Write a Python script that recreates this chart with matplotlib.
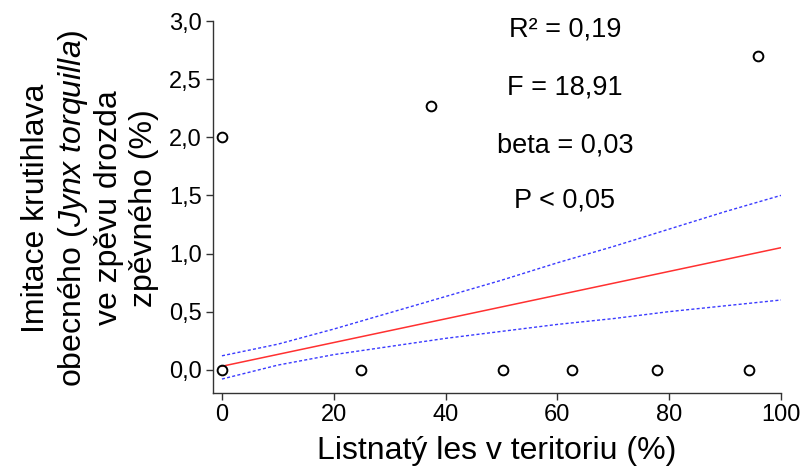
import matplotlib
matplotlib.use("Agg")
import matplotlib.pyplot as plt

plt.rcParams['font.family'] = ['Liberation Sans', 'DejaVu Sans']
plt.rcParams['mathtext.fontset'] = 'custom'
plt.rcParams['mathtext.rm'] = 'Liberation Sans'
plt.rcParams['mathtext.it'] = 'Liberation Sans:italic'

# data points
pts_x = [0, 0, 24.9, 37.4, 50.2, 62.6, 77.8, 94.3, 95.9]
pts_y = [2.0, 0.0, 0.0, 2.27, 0.0, 0.0, 0.0, 0.0, 2.70]

# regression line
fit_x = [0, 100]
fit_y = [0.03, 1.05]

# confidence bands
ci_x = [0, 10, 20, 30, 40, 50, 60, 70, 80, 90, 100]
ci_upper = [0.12, 0.22, 0.35, 0.49, 0.63, 0.77, 0.92, 1.06, 1.21, 1.36, 1.50]
ci_lower = [-0.08, 0.04, 0.13, 0.20, 0.27, 0.33, 0.39, 0.44, 0.50, 0.55, 0.60]

xticks = [0, 20, 40, 60, 80, 100]
yticks = [0.0, 0.5, 1.0, 1.5, 2.0, 2.5, 3.0]
ytick_labels = ["0,0", "0,5", "1,0", "1,5", "2,0", "2,5", "3,0"]

stats = ["R² = 0,19", "F = 18,91", "beta = 0,03", "P < 0,05"]

fig = plt.figure(figsize=(8.08, 4.76), dpi=100)
ax = fig.add_axes([213/808, 83/476, (781-213)/808, (393-21)/476])

ax.plot(ci_x, ci_upper, color='#3a3aff', lw=1.0, ls=(0, (2.2, 1.6)))
ax.plot(ci_x, ci_lower, color='#3a3aff', lw=1.0, ls=(0, (2.2, 1.6)))
ax.plot(fit_x, fit_y, color='#ff3030', lw=1.1)
ax.plot(pts_x, pts_y, ls='none', marker='o', ms=7, mfc='none', mec='black', mew=1.4)

ax.set_xlim(-1.6, 100)
ax.set_ylim(-0.2, 3.0)
ax.set_xticks(xticks)
ax.set_xticklabels([str(t) for t in xticks])
ax.set_yticks(yticks)
ax.set_yticklabels(ytick_labels)
ax.tick_params(labelsize=17, length=5, width=1, color='#333333', pad=3)
for s in ['top', 'right']:
    ax.spines[s].set_visible(False)
for s in ['left', 'bottom']:
    ax.spines[s].set_color('#333333')
    ax.spines[s].set_linewidth(1.0)

ax.set_xlabel("Listnatý les v teritoriu (%)", fontsize=23, labelpad=7)

fig.text(90/808, 1 - 208/476,
         "Imitace krutihlava\nobecného ($\\mathit{Jynx\\ torquilla}$)\nve zpěvu drozda\nzpěvného (%)",
         rotation=90, ha='center', va='center', fontsize=23, linespacing=1.2,
         multialignment='center')

ys = [30, 87, 145, 200]
for t, yy in zip(stats, ys):
    fig.text(565/808, 1 - yy/476, t, ha='center', va='center', fontsize=19.5)

fig.savefig("out.png", dpi=100)
